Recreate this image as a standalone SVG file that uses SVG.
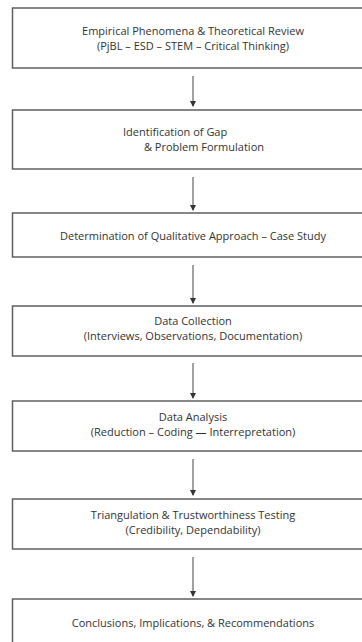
<svg xmlns="http://www.w3.org/2000/svg" width="362" height="642" viewBox="0 0 362 642">
<defs>
<style>
.box{fill:#fff;stroke:#5f5f5f;stroke-width:1.5}
.t{font-family:"Open Sans","Noto Sans","DejaVu Sans",sans-serif;font-size:11px;fill:#333;text-anchor:middle}
.ts{font-family:"Open Sans","Noto Sans","DejaVu Sans",sans-serif;font-size:11px;fill:#333}
.c{stroke:#444;stroke-width:1;fill:none;marker-end:url(#ah)}
</style>
<marker id="ah" viewBox="0 0 6 6" refX="5" refY="3" markerWidth="6" markerHeight="6" markerUnits="userSpaceOnUse" orient="auto">
<path d="M0,0 L6,3 L0,6 Z" fill="#333"/>
</marker>
</defs>
<rect width="362" height="642" fill="#fff"/>
<g id="connectors">
<line class="c" x1="193" y1="76" x2="193" y2="106"/>
<line class="c" x1="193" y1="177" x2="193" y2="210"/>
<line class="c" x1="193" y1="265" x2="193" y2="303"/>
<line class="c" x1="193" y1="363" x2="193" y2="398"/>
<line class="c" x1="193" y1="459" x2="193" y2="495"/>
<line class="c" x1="193" y1="557" x2="193" y2="596"/>
</g>
<g id="n1">
<rect class="box" x="12.5" y="8" width="362" height="60"/>
<text class="t" x="193" y="35">Empirical Phenomena &amp; Theoretical Review</text>
<text class="t" x="193" y="50">(PjBL – ESD – STEM – Critical Thinking)</text>
</g>
<g id="n2">
<rect class="box" x="12.5" y="110" width="362" height="59"/>
<text class="ts" x="123" y="136">Identification of Gap</text>
<text class="ts" x="144" y="151">&amp; Problem Formulation</text>
</g>
<g id="n3">
<rect class="box" x="12.5" y="213" width="362" height="44"/>
<text class="t" x="193" y="240">Determination of Qualitative Approach – Case Study</text>
</g>
<g id="n4">
<rect class="box" x="12.5" y="306" width="362" height="50"/>
<text class="t" x="193" y="325">Data Collection</text>
<text class="t" x="193" y="340">(Interviews, Observations, Documentation)</text>
</g>
<g id="n5">
<rect class="box" x="12.5" y="401" width="362" height="50"/>
<text class="t" x="193" y="421">Data Analysis</text>
<text class="t" x="193" y="436">(Reduction – Coding — Interrepretation)</text>
</g>
<g id="n6">
<rect class="box" x="12.5" y="499" width="362" height="50"/>
<text class="t" x="193" y="519">Triangulation &amp; Trustworthiness Testing</text>
<text class="t" x="193" y="534">(Credibility, Dependability)</text>
</g>
<g id="n7">
<rect class="box" x="12.5" y="599" width="362" height="60"/>
<text class="t" x="193" y="627">Conclusions, Implications, &amp; Recommendations</text>
</g>
</svg>
